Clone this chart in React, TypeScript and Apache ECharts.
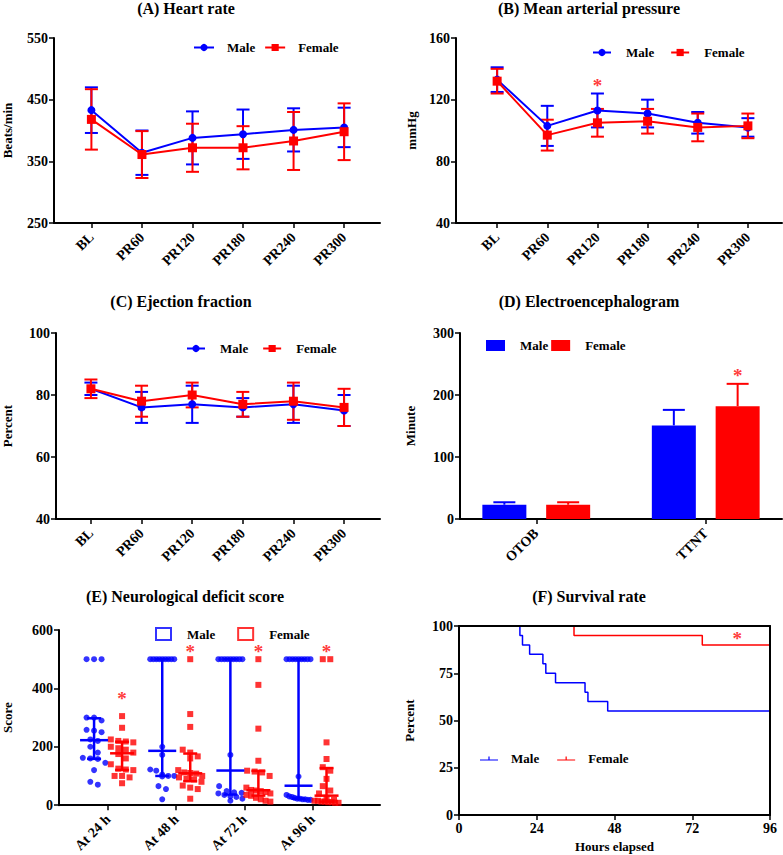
import React, { useEffect, useRef } from "react";
import * as echarts from "echarts";

const FONT = '"Liberation Serif", "Times New Roman", serif';
const BLUE = "#0000ff";
const RED = "#ff0000";
const SIG_RED = "#ff3b3b";
const BLACK = "#000000";

// ---------- (A) Heart rate ----------
const timeLabels = ["BL", "PR60", "PR120", "PR180", "PR240", "PR300"];
const hrMale = [433, 364, 388, 394, 401, 405];
const hrMaleSd = [37, 36, 43, 40, 35, 32];
const hrFemale = [418, 361, 372, 372, 383, 398];
const hrFemaleSd = [49, 38, 39, 35, 47, 46];

// ---------- (B) Mean arterial pressure ----------
const mapMale = [133, 103, 113, 111, 105, 102];
const mapMaleSd = [8, 13, 11, 9, 7, 6];
const mapFemale = [132, 97, 105, 106, 102, 103];
const mapFemaleSd = [8, 10, 9, 8, 9, 8];
const mapSig = [[2, 131]];

// ---------- (C) Ejection fraction ----------
const efMale = [82, 76, 77, 76, 77, 75];
const efMaleSd = [2, 5, 6, 3, 6, 5];
const efFemale = [82, 78, 80, 77, 78, 76];
const efFemaleSd = [3, 5, 4, 4, 6, 6];

// ---------- (D) Electroencephalogram ----------
const eegCats = ["OTOB", "TTNT"];
const eegMale = [23, 151];
const eegMaleSd = [4, 25];
const eegFemale = [23, 182];
const eegFemaleSd = [4, 36];
const eegSig = [[1, 237]];

// ---------- (E) Neurological deficit score ----------
const ndsCats = ["At 24 h", "At 48 h", "At 72 h", "At 96 h"];
const ndsMale24 = [500, 500, 500, 300, 300, 290, 258, 255, 250, 225, 220, 200, 180, 162, 160, 158, 145, 120, 80, 70];
const ndsFemale24 = [305, 265, 225, 220, 218, 215, 200, 195, 190, 180, 175, 160, 140, 125, 122, 120, 100, 100, 95, 75];
const ndsMale48 = [500, 500, 500, 500, 500, 500, 500, 500, 500, 200, 172, 122, 118, 105, 100, 100, 98, 65, 55, 20];
const ndsFemale48 = [500, 312, 268, 190, 180, 167, 160, 120, 112, 110, 108, 100, 95, 90, 88, 80, 67, 60, 55, 22];
const ndsMale72 = [500, 500, 500, 500, 500, 500, 500, 500, 500, 172, 65, 48, 44, 42, 40, 35, 30, 28, 22, 15];
const ndsFemale72 = [500, 412, 262, 152, 118, 115, 112, 100, 60, 52, 50, 48, 45, 40, 35, 32, 25, 20, 15, 12];
const ndsMale96 = [500, 500, 500, 500, 500, 500, 500, 500, 500, 98, 35, 30, 28, 25, 22, 22, 20, 20, 18, 18];
const ndsFemale96 = [500, 500, 215, 158, 130, 118, 90, 65, 50, 40, 25, 18, 15, 15, 12, 12, 10, 10, 8, 8];
const ndsSig = [[0, 375], [1, 535], [2, 535], [3, 535]];

// ---------- (F) Survival rate ----------
const survMaleHours = [0, 18.8, 19.6, 21.8, 25.9, 26.8, 29.8, 38.9, 39.8, 45.9, 96];
const survMale = [100, 95, 90, 85, 80, 75, 70, 65, 60, 55, 55];
const survFemaleHours = [0, 35.5, 75.1, 96];
const survFemale = [100, 95, 90, 90];
const survSig = [[85.9, 95]];

// ---------- layout ----------
const grids = [
  { left: 54, top: 38, width: 326, height: 185 },
  { left: 456, top: 38, width: 326, height: 185 },
  { left: 55, top: 333, width: 325, height: 186 },
  { left: 460, top: 333, width: 322, height: 186 },
  { left: 59, top: 630, width: 321, height: 180 },
  { left: 459, top: 626, width: 311, height: 189 },
];
const xRanges = [
  [-0.74, 5.71],
  [-0.82, 5.68],
  [-0.69, 5.71],
  [-0.45, 1.45],
  [-0.72, 3.99],
  [0, 96],
];

const tickLabel = { color: BLACK, fontFamily: FONT, fontWeight: "bold", fontSize: 14 };
const nameText = { color: BLACK, fontFamily: FONT, fontWeight: "bold", fontSize: 13 };
const axisLineStyle = { color: BLACK, width: 2 };

function catXAxis(grid: number, labels: string[]) {
  const idx = labels.map((_, i) => i);
  return {
    type: "value",
    gridIndex: grid,
    min: xRanges[grid][0],
    max: xRanges[grid][1],
    splitLine: { show: false },
    axisLine: { show: true, onZero: false, lineStyle: axisLineStyle },
    axisTick: { show: true, length: 5, customValues: idx, lineStyle: { color: BLACK, width: 1.5 } },
    axisLabel: {
      ...tickLabel,
      customValues: idx,
      rotate: 45,
      margin: 12,
      formatter: (v: number) => labels[Math.round(v)] ?? "",
    },
  };
}

function valYAxis(grid: number, min: number, max: number, interval: number, name: string, nameGap: number) {
  return {
    type: "value",
    gridIndex: grid,
    min,
    max,
    interval,
    name,
    nameLocation: "middle",
    nameGap,
    nameRotate: 90,
    nameTextStyle: nameText,
    splitLine: { show: false },
    axisLine: { show: true, onZero: false, lineStyle: axisLineStyle },
    axisTick: { show: true, length: 5, lineStyle: { color: BLACK, width: 1.5 } },
    axisLabel: { ...tickLabel, margin: 6 },
  };
}

function lineSeries(name: string, grid: number, vals: number[], color: string, symbol: string) {
  return {
    type: "line",
    name,
    xAxisIndex: grid,
    yAxisIndex: grid,
    data: vals.map((v, i) => [i, v]),
    symbol,
    symbolSize: symbol === "circle" ? 8 : 9,
    showSymbol: true,
    lineStyle: { color, width: 2 },
    itemStyle: { color },
    z: 3,
  };
}

function errSeries(
  grid: number,
  vals: number[],
  sds: number[],
  color: string,
  capHalf: number,
  offsetPx = 0,
  upperOnly = false
) {
  return {
    type: "custom",
    xAxisIndex: grid,
    yAxisIndex: grid,
    silent: true,
    z: 2,
    data: vals.map((v, i) => [i, upperOnly ? v : v - sds[i], v + sds[i]]),
    encode: { x: 0, y: [1, 2] },
    renderItem: (_p: any, api: any) => {
      const x = api.value(0);
      const lo = api.coord([x, api.value(1)]);
      const hi = api.coord([x, api.value(2)]);
      const cx = lo[0] + offsetPx;
      const style = { stroke: color, lineWidth: 2, fill: "none" };
      const children: any[] = [
        { type: "line", shape: { x1: cx, y1: lo[1], x2: cx, y2: hi[1] }, style },
        { type: "line", shape: { x1: cx - capHalf, y1: hi[1], x2: cx + capHalf, y2: hi[1] }, style },
      ];
      if (!upperOnly) {
        children.push({ type: "line", shape: { x1: cx - capHalf, y1: lo[1], x2: cx + capHalf, y2: lo[1] }, style });
      }
      return { type: "group", children };
    },
  };
}

function sigSeries(grid: number, pts: number[][], offsetPx = 0) {
  return {
    type: "custom",
    xAxisIndex: grid,
    yAxisIndex: grid,
    silent: true,
    z: 5,
    data: pts,
    encode: { x: 0, y: 1 },
    renderItem: (_p: any, api: any) => {
      const c = api.coord([api.value(0), api.value(1)]);
      return {
        type: "text",
        x: c[0] + offsetPx,
        y: c[1] + 3,
        style: { text: "*", fill: SIG_RED, font: `bold 19px ${FONT}`, align: "center", verticalAlign: "middle" },
      };
    },
  };
}

// beeswarm spread of a column (deterministic, from sorted values)
function swarm(values: number[], center: number, xPerPx: number, binUnits: number) {
  const sorted = [...values].sort((a, b) => b - a);
  const out: number[][] = [];
  let i = 0;
  while (i < sorted.length) {
    let j = i;
    while (j < sorted.length && sorted[i] - sorted[j] < binUnits) j++;
    const k = j - i;
    const step = k > 1 ? Math.min(7.5, 24 / (k - 1)) : 0;
    for (let m = 0; m < k; m++) out.push([center + (m - (k - 1) / 2) * step * xPerPx, sorted[i + m]]);
    i = j;
  }
  return out;
}

function quantile(asc: number[], p: number) {
  const n = asc.length;
  let pos = p * (n + 1);
  if (pos < 1) pos = 1;
  if (pos > n) pos = n;
  const lo = Math.floor(pos);
  const frac = pos - lo;
  const a = asc[lo - 1];
  const b = asc[Math.min(lo, n - 1)];
  return a + frac * (b - a);
}

function summarySeries(grid: number, groups: number[][], centers: number[], color: string, capHalf: number, medHalf: number) {
  const data = groups.map((g, i) => {
    const asc = [...g].sort((a, b) => a - b);
    return [centers[i], quantile(asc, 0.25), quantile(asc, 0.5), quantile(asc, 0.75)];
  });
  return {
    type: "custom",
    xAxisIndex: grid,
    yAxisIndex: grid,
    silent: true,
    z: 4,
    data,
    encode: { x: 0, y: [1, 2, 3] },
    renderItem: (_p: any, api: any) => {
      const x = api.value(0);
      const q1 = api.coord([x, api.value(1)]);
      const md = api.coord([x, api.value(2)]);
      const q3 = api.coord([x, api.value(3)]);
      const cx = q1[0];
      const style = { stroke: color, lineWidth: 2.5, fill: "none" };
      return {
        type: "group",
        children: [
          { type: "line", shape: { x1: cx, y1: q1[1], x2: cx, y2: q3[1] }, style },
          { type: "line", shape: { x1: cx - capHalf, y1: q1[1], x2: cx + capHalf, y2: q1[1] }, style },
          { type: "line", shape: { x1: cx - capHalf, y1: q3[1], x2: cx + capHalf, y2: q3[1] }, style },
          { type: "line", shape: { x1: cx - medHalf, y1: md[1], x2: cx + medHalf, y2: md[1] }, style },
        ],
      };
    },
  };
}

function legendOf(data: any[], left: number, top: number, extra: any = {}) {
  return {
    data,
    left,
    top,
    orient: "horizontal",
    padding: 0,
    selectedMode: false,
    formatter: (n: string) => n.split("#")[0],
    textStyle: { ...nameText, padding: [0, 0, 0, 8] },
    itemGap: 9,
    itemWidth: 20,
    itemHeight: 9,
    ...extra,
  };
}

const titles = [
  { text: "(A) Heart rate", x: 186, y: 8 },
  { text: "(B) Mean arterial pressure", x: 589, y: 8 },
  { text: "(C) Ejection fraction", x: 181, y: 301 },
  { text: "(D) Electroencephalogram", x: 589, y: 301 },
  { text: "(E) Neurological deficit score", x: 185, y: 596 },
  { text: "(F) Survival rate", x: 589, y: 596 },
];

function buildOption() {
  // panel D bar geometry
  const barW = 44;
  const barGap = 0.45;
  const dOff = (barW + barW * barGap) / 2;

  // panel E column geometry
  const eX = xRanges[4];
  const ePerPx = (eX[1] - eX[0]) / grids[4].width;
  const eColOff = 14 * ePerPx;
  const eBin = (600 / grids[4].height) * 7;
  const maleGroups = [ndsMale24, ndsMale48, ndsMale72, ndsMale96];
  const femaleGroups = [ndsFemale24, ndsFemale48, ndsFemale72, ndsFemale96];
  const maleCenters = ndsCats.map((_, i) => i - eColOff);
  const femaleCenters = ndsCats.map((_, i) => i + eColOff);
  const maleDots = maleGroups.flatMap((g, i) => swarm(g, maleCenters[i], ePerPx, eBin));
  const femaleDots = femaleGroups.flatMap((g, i) => swarm(g, femaleCenters[i], ePerPx, eBin));

  const fX = xRanges[5];

  return {
    animation: false,
    backgroundColor: "#ffffff",
    textStyle: { fontFamily: FONT },
    grid: grids.map((g) => ({ ...g, containLabel: false })),
    xAxis: [
      catXAxis(0, timeLabels),
      catXAxis(1, timeLabels),
      catXAxis(2, timeLabels),
      catXAxis(3, eegCats),
      catXAxis(4, ndsCats),
      {
        type: "value",
        gridIndex: 5,
        min: fX[0],
        max: fX[1],
        interval: 24,
        name: "Hours elapsed",
        nameLocation: "middle",
        nameGap: 25,
        nameTextStyle: nameText,
        splitLine: { show: false },
        axisLine: { show: true, onZero: false, lineStyle: axisLineStyle },
        axisTick: { show: true, length: 5, lineStyle: { color: BLACK, width: 1.5 } },
        axisLabel: { ...tickLabel, margin: 6 },
      },
      {
        type: "value",
        gridIndex: 5,
        position: "top",
        min: fX[0],
        max: fX[1],
        z: 5,
        splitLine: { show: false },
        axisLine: { show: true, onZero: false, lineStyle: axisLineStyle },
        axisTick: { show: false },
        axisLabel: { show: false },
      },
    ],
    yAxis: [
      valYAxis(0, 250, 550, 100, "Beats/min", 40),
      valYAxis(1, 40, 160, 40, "mmHg", 38),
      valYAxis(2, 40, 100, 20, "Percent", 42),
      valYAxis(3, 0, 300, 100, "Minute", 43),
      valYAxis(4, 0, 600, 200, "Score", 45),
      valYAxis(5, 0, 100, 25, "Percent", 43),
      {
        type: "value",
        gridIndex: 5,
        position: "right",
        min: 0,
        max: 100,
        z: 5,
        splitLine: { show: false },
        axisLine: { show: true, onZero: false, lineStyle: axisLineStyle },
        axisTick: { show: false },
        axisLabel: { show: false },
      },
    ],
    legend: [
      legendOf(["Male#A", "Female#A"], 193, 41),
      legendOf(["Male#B", "Female#B"], 592, 46, { itemWidth: 18, itemGap: 16, textStyle: { ...nameText, padding: [0, 0, 0, 10] } }),
      legendOf(["Male#C", "Female#C"], 186, 342, { itemWidth: 18, itemGap: 14, textStyle: { ...nameText, padding: [0, 0, 0, 10] } }),
      legendOf(["Male#D", "Female#D"], 486, 339, {
        icon: "rect",
        itemWidth: 19,
        itemHeight: 11,
        itemGap: 3,
        textStyle: { ...nameText, padding: [0, 0, 0, 10] },
      }),
      legendOf(
        [
          { name: "Male#E", icon: "rect", itemStyle: { color: "transparent", borderColor: BLUE, borderWidth: 2 } },
          { name: "Female#E", icon: "rect", itemStyle: { color: "transparent", borderColor: RED, borderWidth: 2 } },
        ],
        155,
        627,
        { itemWidth: 15, itemHeight: 12, itemGap: 22, textStyle: { ...nameText, padding: [0, 0, 0, 11] } }
      ),
      legendOf(["Male#F", "Female#F"], 480, 752, {
        icon: "path://M0,8L30,8L30,10L0,10Z M14,3L16,3L16,8L14,8Z",
        itemWidth: 18,
        itemHeight: 6,
        itemGap: 18,
        itemStyle: { borderWidth: 0 },
        textStyle: { ...nameText, padding: [0, 0, 0, 8] },
      }),
    ],
    graphic: titles.map((t) => ({
      type: "text",
      x: t.x,
      y: t.y,
      silent: true,
      style: { text: t.text, fill: BLACK, font: `bold 16px ${FONT}`, align: "center", verticalAlign: "middle" },
    })),
    series: [
      // A
      errSeries(0, hrMale, hrMaleSd, BLUE, 6.5),
      errSeries(0, hrFemale, hrFemaleSd, RED, 6.5),
      lineSeries("Male#A", 0, hrMale, BLUE, "circle"),
      lineSeries("Female#A", 0, hrFemale, RED, "rect"),
      // B
      errSeries(1, mapMale, mapMaleSd, BLUE, 6.5),
      errSeries(1, mapFemale, mapFemaleSd, RED, 6.5),
      lineSeries("Male#B", 1, mapMale, BLUE, "circle"),
      lineSeries("Female#B", 1, mapFemale, RED, "rect"),
      sigSeries(1, mapSig),
      // C
      errSeries(2, efMale, efMaleSd, BLUE, 6.5),
      errSeries(2, efFemale, efFemaleSd, RED, 6.5),
      lineSeries("Male#C", 2, efMale, BLUE, "circle"),
      lineSeries("Female#C", 2, efFemale, RED, "rect"),
      // D
      {
        type: "bar",
        name: "Male#D",
        xAxisIndex: 3,
        yAxisIndex: 3,
        data: eegMale.map((v, i) => [i, v]),
        barWidth: barW,
        barGap: `${barGap * 100}%`,
        itemStyle: { color: BLUE },
      },
      {
        type: "bar",
        name: "Female#D",
        xAxisIndex: 3,
        yAxisIndex: 3,
        data: eegFemale.map((v, i) => [i, v]),
        barWidth: barW,
        barGap: `${barGap * 100}%`,
        itemStyle: { color: RED },
      },
      errSeries(3, eegMale, eegMaleSd, BLUE, 11, -dOff, true),
      errSeries(3, eegFemale, eegFemaleSd, RED, 11, dOff, true),
      sigSeries(3, eegSig, dOff),
      // E
      {
        type: "scatter",
        name: "Male#E",
        xAxisIndex: 4,
        yAxisIndex: 4,
        symbol: "circle",
        symbolSize: 6,
        data: maleDots,
        itemStyle: { color: BLUE },
      },
      {
        type: "scatter",
        name: "Female#E",
        xAxisIndex: 4,
        yAxisIndex: 4,
        symbol: "rect",
        symbolSize: 6,
        data: femaleDots,
        itemStyle: { color: RED },
      },
      summarySeries(4, maleGroups, maleCenters, BLUE, 7, 14),
      summarySeries(4, femaleGroups, femaleCenters, RED, 7, 12),
      sigSeries(
        4,
        ndsSig.map((p) => [p[0] + eColOff, p[1]])
      ),
      // F
      {
        type: "line",
        name: "Male#F",
        xAxisIndex: 5,
        yAxisIndex: 5,
        step: "end",
        symbol: "none",
        data: survMaleHours.map((h, i) => [h, survMale[i]]),
        lineStyle: { color: BLUE, width: 1.5 },
        itemStyle: { color: BLUE },
      },
      {
        type: "line",
        name: "Female#F",
        xAxisIndex: 5,
        yAxisIndex: 5,
        step: "end",
        symbol: "none",
        data: survFemaleHours.map((h, i) => [h, survFemale[i]]),
        lineStyle: { color: RED, width: 1.5 },
        itemStyle: { color: RED },
      },
      sigSeries(5, survSig),
    ],
  };
}

export default function App() {
  const ref = useRef<HTMLDivElement>(null);
  useEffect(() => {
    if (!ref.current) return;
    const chart = echarts.init(ref.current, null, { renderer: "svg" });
    chart.setOption(buildOption() as any);
    return () => chart.dispose();
  }, []);
  return (
    <div
      ref={ref}
      style={{ position: "absolute", left: 0, top: 0, width: 783, height: 855, background: "#ffffff" }}
    />
  );
}
